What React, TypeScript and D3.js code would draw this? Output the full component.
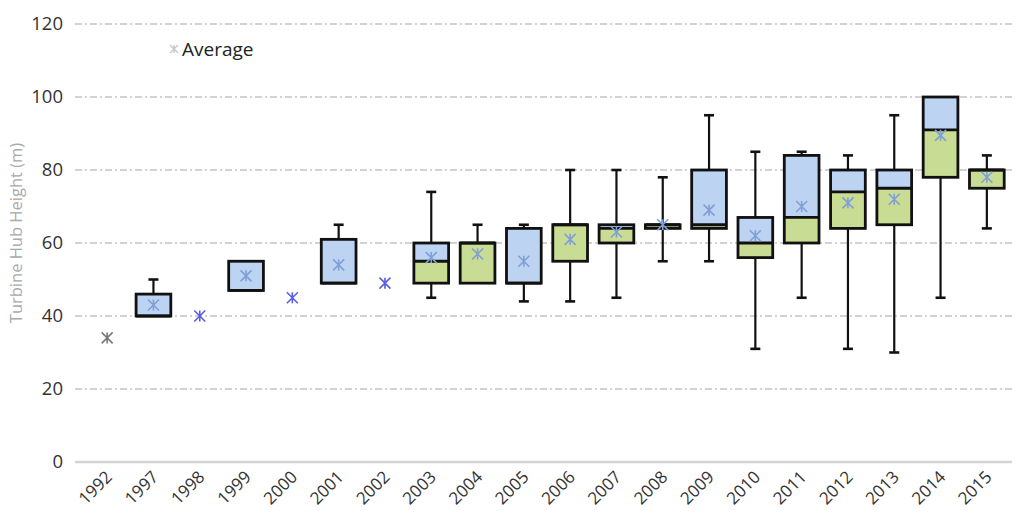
import React from "react";
import * as d3 from "d3";

const years = ["1992","1997","1998","1999","2000","2001","2002","2003","2004","2005","2006","2007","2008","2009","2010","2011","2012","2013","2014","2015"];
const minV: (number | null)[] = [null,40,null,47,null,49,null,45,49,44,44,45,55,55,31,45,31,30,45,64];
const q1V: (number | null)[] = [null,40,null,47,null,49,null,49,49,49,55,60,64,64,56,60,64,65,78,75];
const medV: (number | null)[] = [null,40,null,47,null,49,null,55,60,49,65,64,65,65,60,67,74,75,91,80];
const q3V: (number | null)[] = [null,46,null,55,null,61,null,60,60,64,65,65,65,80,67,84,80,80,100,80];
const maxV: (number | null)[] = [null,50,null,55,null,65,null,74,65,65,80,80,78,95,85,85,84,95,100,84];
const meanV: number[] = [34,43,40,51,45,54,49,56,57,55,61,63,65,69,62,70,71,72,89.5,78];
const yTicks = [0,20,40,60,80,100,120];

const W = 1019, H = 527;
const FONT = "'Open Sans', 'Liberation Sans', sans-serif";

function Star({ x, y, color, size = 5.5, sw = 1.6 }: { x: number; y: number; color: string; size?: number; sw?: number }) {
  const s = size;
  const d = `M${x - s},${y - s}L${x + s},${y + s}M${x - s},${y + s}L${x + s},${y - s}M${x},${y - s}L${x},${y + s}`;
  return <path d={d} stroke={color} strokeWidth={sw} fill="none" />;
}

export default function App() {
  const x = d3.scaleBand<string>().domain(years).range([84, 1010]).padding(0);
  const y = d3.scaleLinear().domain([0, 120]).range([462, 24]);
  const bw = x.bandwidth() * 0.75;
  const cap = 10;

  return (
    <svg width={W} height={H} style={{ position: "absolute", left: 0, top: 0, background: "#fff" }} fontFamily={FONT}>
      {yTicks.filter(t => t > 0).map(t => (
        <line key={t} x1={75} x2={1012} y1={y(t)} y2={y(t)} stroke="#c4c4c4" strokeWidth={1.3} strokeDasharray="7 3 2 3" />
      ))}
      <line x1={75} x2={1012} y1={y(0)} y2={y(0)} stroke="#d4d4d4" strokeWidth={2.5} />
      {yTicks.map(t => (
        <text key={t} x={63} y={y(t)} dy="0.35em" textAnchor="end" fontSize={18.5} fill="#333">{t}</text>
      ))}
      <text transform={`translate(22,233) rotate(-90)`} textAnchor="middle" fontSize={16.5} fill="#aaa">Turbine Hub Height (m)</text>
      {years.map(yr => {
        const cx = (x(yr) as number) + x.bandwidth() / 2;
        return (
          <text key={yr} transform={`translate(${cx + 6},${478}) rotate(-45)`} textAnchor="end" fontSize={17} fill="#333">{yr}</text>
        );
      })}
      {years.map((yr, i) => {
        const cx = (x(yr) as number) + x.bandwidth() / 2;
        const mn = minV[i], a = q1V[i], m = medV[i], b = q3V[i], mx = maxV[i];
        if (a == null || b == null || m == null || mn == null || mx == null) return null;
        const x0 = cx - bw / 2;
        return (
          <g key={yr}>
            {mx > b && (
              <g>
                <line x1={cx} x2={cx} y1={y(b)} y2={y(mx)} stroke="#111" strokeWidth={2.2} />
                <line x1={cx - cap / 2} x2={cx + cap / 2} y1={y(mx)} y2={y(mx)} stroke="#111" strokeWidth={2.6} />
              </g>
            )}
            {mn < a && (
              <g>
                <line x1={cx} x2={cx} y1={y(a)} y2={y(mn)} stroke="#111" strokeWidth={2.2} />
                <line x1={cx - cap / 2} x2={cx + cap / 2} y1={y(mn)} y2={y(mn)} stroke="#111" strokeWidth={2.6} />
              </g>
            )}
            {m > a && <rect x={x0} width={bw} y={y(m)} height={y(a) - y(m)} fill="#c9dc93" />}
            {b > m && <rect x={x0} width={bw} y={y(b)} height={y(m) - y(b)} fill="#bcd3f2" />}
            <line x1={x0} x2={x0 + bw} y1={y(m)} y2={y(m)} stroke="#111" strokeWidth={2.8} />
            <rect x={x0} width={bw} y={y(b)} height={Math.max(y(a) - y(b), 0.5)} fill="none" stroke="#111" strokeWidth={2.8} />
          </g>
        );
      })}
      {years.map((yr, i) => {
        const cx = (x(yr) as number) + x.bandwidth() / 2;
        const inBox = q1V[i] != null;
        const color = i === 0 ? "#777" : inBox ? "#7f9fd6" : "#5a5ee0";
        return <Star key={yr} x={cx} y={y(meanV[i])} color={color} />;
      })}
      <Star x={174} y={49} color="#c8c8c8" size={4} sw={1.4} />
      <text x={182} y={49} dy="0.35em" fontSize={19} fill="#222">Average</text>
    </svg>
  );
}
